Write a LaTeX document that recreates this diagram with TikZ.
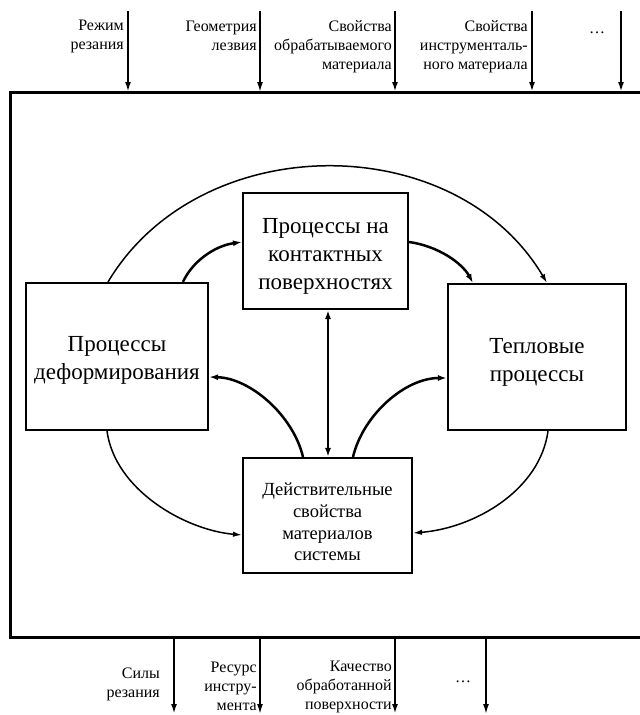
\documentclass[tikz,border=0pt]{standalone}
\usepackage{fontspec}
\setmainfont{Liberation Serif}
\usetikzlibrary{arrows.meta}
\begin{document}
\begin{tikzpicture}[x=1pt,y=-1pt,
  box/.style={draw,line width=2.1pt,inner sep=0pt},
  boxtext/.style={align=center,inner sep=0pt,font=\fontsize{23}{28}\selectfont},
  smalltext/.style={align=center,inner sep=0pt,font=\fontsize{18.5}{21.8}\selectfont},
  lbl/.style={align=right,inner sep=0pt,font=\fontsize{16}{19}\selectfont},
  dots/.style={inner sep=0pt,font=\fontsize{16}{19}\selectfont},
  thickarr/.style={line width=2.5pt,-{Latex[length=9pt,width=6pt]}},
  thinarr/.style={line width=1.5pt,-{Latex[length=9pt,width=5.5pt]}},
  ioarr/.style={line width=2.4pt,-{Latex[length=10pt,width=6pt]}},
  ioarrthin/.style={line width=1.6pt,-{Latex[length=10pt,width=6pt]}},
]
\useasboundingbox (0,0) rectangle (640,715);

% frame (right side lies beyond the page)
\node[draw,line width=3pt,minimum width=640pt,minimum height=545pt,inner sep=0pt] (frame) at (330,364.5) {};

% boxes
\node[box,minimum width=182pt,minimum height=147pt] (L) at (117,356.5) {};
\node[boxtext] (Ltx) at (117,360) {Процессы\\деформирования};
\node[box,minimum width=165pt,minimum height=116pt] (T) at (325.5,251) {};
\node[boxtext] (Ttx) at (325.5,256) {Процессы на\\контактных\\поверхностях};
\node[box,minimum width=178pt,minimum height=146pt] (R) at (537,357) {};
\node[boxtext] (Rtx) at (537,362.5) {Тепловые\\процессы};
\node[box,minimum width=169pt,minimum height=115pt] (B) at (327.5,515.5) {};
\node[smalltext] (Btx) at (327.5,522) {Действительные\\свойства\\материалов\\системы};

% inputs
\coordinate (i1s) at (128,11);  \coordinate (i1e) at (128,92);
\coordinate (i2s) at (260,11);  \coordinate (i2e) at (260,92);
\coordinate (i3s) at (395,11);  \coordinate (i3e) at (395,92);
\coordinate (i4s) at (532,11);  \coordinate (i4e) at (532,92);
\coordinate (i5s) at (621,11);  \coordinate (i5e) at (621,92);
\draw[ioarr] (i1s) -- (i1e);
\draw[ioarrthin] (i2s) -- (i2e);
\draw[ioarr] (i3s) -- (i3e);
\draw[ioarr] (i4s) -- (i4e);
\draw[ioarr] (i5s) -- (i5e);
\node[lbl,anchor=east] (l1) at (124,36) {Режим\\резания};
\node[lbl,anchor=east] (l2) at (257,36) {Геометрия\\лезвия};
\node[lbl,anchor=east] (l3) at (392,47) {Свойства\\обрабатываемого\\материала};
\node[lbl,anchor=east] (l4) at (528,47) {Свойства\\инструменталь-\\ного материала};
\node[dots] (l5) at (597,33) {\dots};

% outputs
\coordinate (o1s) at (174,638); \coordinate (o1e) at (174,714);
\coordinate (o2s) at (260,638); \coordinate (o2e) at (260,714);
\coordinate (o3s) at (395,638); \coordinate (o3e) at (395,714);
\coordinate (o4s) at (486,638); \coordinate (o4e) at (486,714);
\draw[ioarr] (o1s) -- (o1e);
\draw[ioarrthin] (o2s) -- (o2e);
\draw[ioarr] (o3s) -- (o3e);
\draw[ioarrthin] (o4s) -- (o4e);
\node[lbl,anchor=east] (m1) at (160,684) {Силы\\резания};
\node[lbl,anchor=east] (m2) at (257,686.5) {Ресурс\\инстру-\\мента};
\node[lbl,anchor=east] (m3) at (392,686.5) {Качество\\обработанной\\поверхности};
\node[dots] (m4) at (463,682) {\dots};

% internal links
\draw[thinarr] ([xshift=-9pt]L.north) .. controls (200,128) and (455,128) .. ([xshift=10pt]R.north);
\draw[thickarr] ([xshift=66pt]L.north) .. controls (192,262) and (214,246) .. ([yshift=9pt]T.west);
\draw[thickarr] ([yshift=9pt]T.east) .. controls (438,246) and (462,263) .. ([xshift=-64pt]R.north);
\draw[thickarr,{Latex[length=9pt,width=6pt]}-{Latex[length=9pt,width=6pt]}] ([xshift=2.5pt]T.south) -- ([xshift=0.5pt]B.north);
\draw[thickarr] ([xshift=-24.5pt]B.north) .. controls (293,415) and (250,378) .. ([yshift=-20.5pt]L.east);
\draw[thickarr] ([xshift=25.5pt]B.north) .. controls (363,415) and (405,378) .. ([yshift=-21pt]R.west);
\draw[thinarr] ([xshift=-10pt]L.south) .. controls (115,490) and (185,530) .. ([yshift=-19.5pt]B.west);
\draw[thinarr] ([xshift=11pt]R.south) .. controls (540,490) and (475,528) .. ([yshift=-17.5pt]B.east);
\end{tikzpicture}
\end{document}
